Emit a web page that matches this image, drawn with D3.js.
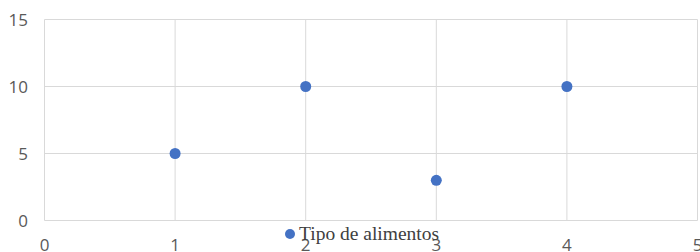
<!DOCTYPE html>
<html>
<head>
<meta charset="utf-8">
<script src="https://cdn.jsdelivr.net/npm/d3@7"></script>
<style>
  body { margin: 0; background: #fff; }
  svg { display: block; }
</style>
</head>
<body>
<div id="chart"></div>
<script>
// data
var xValues = [1, 2, 3, 4]
var yValues = [5, 10, 3, 10]
var seriesName = "Tipo de alimentos"
var xTicks = [0, 1, 2, 3, 4, 5]
var yTicks = [0, 5, 10, 15]

var width = 700, height = 252
var svg = d3.select("#chart").append("svg")
    .attr("width", width)
    .attr("height", height)

var x = d3.scaleLinear().domain([0, 5]).range([44.5, 697.5])
var y = d3.scaleLinear().domain([0, 15]).range([220.5, 19.5])

// grid
svg.append("g")
    .attr("stroke", "#d9d9d9")
    .attr("stroke-width", 1)
    .selectAll("line.v")
    .data(xTicks)
    .join("line")
    .attr("x1", d => x(d)).attr("x2", d => x(d))
    .attr("y1", y(15)).attr("y2", y(0))

svg.append("g")
    .attr("stroke", "#d9d9d9")
    .attr("stroke-width", 1)
    .selectAll("line")
    .data(yTicks)
    .join("line")
    .attr("x1", x(0)).attr("x2", x(5))
    .attr("y1", d => y(d)).attr("y2", d => y(d))

// tick labels
svg.append("g")
    .attr("font-family", "'Open Sans', sans-serif")
    .attr("font-size", 17)
    .attr("fill", "#595959")
    .attr("text-anchor", "end")
    .selectAll("text")
    .data(yTicks)
    .join("text")
    .attr("x", 28)
    .attr("y", d => y(d) + 6.5)
    .text(d => d)

svg.append("g")
    .attr("font-family", "'Open Sans', sans-serif")
    .attr("font-size", 17)
    .attr("fill", "#595959")
    .attr("text-anchor", "middle")
    .selectAll("text")
    .data(xTicks)
    .join("text")
    .attr("x", d => x(d))
    .attr("y", 251)
    .text(d => d)

// points
svg.append("g")
    .selectAll("circle")
    .data(xValues.map((v, i) => [v, yValues[i]]))
    .join("circle")
    .attr("cx", d => x(d[0]))
    .attr("cy", d => y(d[1]))
    .attr("r", 5.5)
    .attr("fill", "#4472c4")

// legend (sits over the axis labels, like the original)
var lg = svg.append("g").attr("transform", "translate(290,234)")
lg.append("circle").attr("r", 5).attr("fill", "#4472c4")
lg.append("text")
    .attr("x", 9)
    .attr("y", 6)
    .attr("font-family", "'Liberation Serif', serif")
    .attr("font-size", 19.5)
    .attr("fill", "#404040")
    .text(seriesName)
</script>
</body>
</html>
